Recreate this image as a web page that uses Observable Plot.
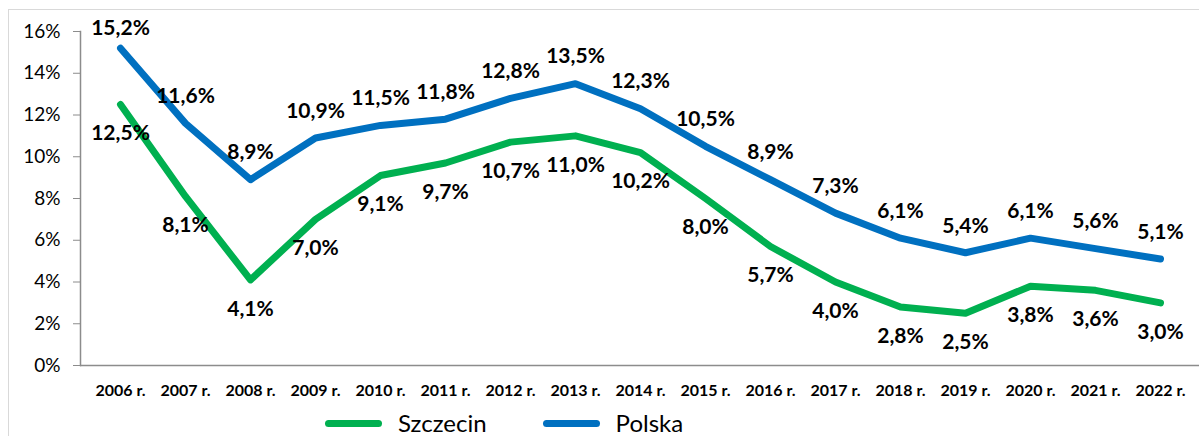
<!DOCTYPE html>
<html><head><meta charset="utf-8">
<script src="https://cdn.jsdelivr.net/npm/d3@7"></script>
<script src="https://cdn.jsdelivr.net/npm/@observablehq/plot@0.6"></script>
<style>
body{margin:0;background:#fff;font-family:Lato,"Open Sans",sans-serif}
#wrap{position:relative;width:1199px;height:436px;overflow:hidden}
#frame{position:absolute;left:8px;top:9px;width:1400px;height:600px;border:1px solid #d9d9d9}
#chart{position:absolute;left:0;top:0}
#legend{position:absolute;left:325px;top:410px;height:26px;display:flex;align-items:center;font-size:24px;line-height:1;color:#000}
.sw{width:57px;height:7px;border-radius:4px;margin-right:16px}
.lab{margin-right:56px;line-height:1}
</style></head>
<body><div id="wrap"><div id="frame"></div><div id="chart"></div><div id="legend"></div></div>
<script>
const years = ["2006 r.","2007 r.","2008 r.","2009 r.","2010 r.","2011 r.","2012 r.","2013 r.","2014 r.","2015 r.","2016 r.","2017 r.","2018 r.","2019 r.","2020 r.","2021 r.","2022 r."];
const szczecin = [12.5, 8.1, 4.1, 7.0, 9.1, 9.7, 10.7, 11.0, 10.2, 8.0, 5.7, 4.0, 2.8, 2.5, 3.8, 3.6, 3.0];
const polska = [15.2, 11.6, 8.9, 10.9, 11.5, 11.8, 12.8, 13.5, 12.3, 10.5, 8.9, 7.3, 6.1, 5.4, 6.1, 5.6, 5.1];
const yTicks = [0, 2, 4, 6, 8, 10, 12, 14, 16];
const seriesNames = ["Szczecin", "Polska"];
const seriesColors = ["#00B050", "#0070C0"];

const sRows = years.map((year, i) => ({year, value: szczecin[i], series: "Szczecin", i}));
const pRows = years.map((year, i) => ({year, value: polska[i], series: "Polska", i}));
const rows = sRows.concat(pRows);
const fmt = v => v.toFixed(1).replace(".", ",") + "%";
const font = "Lato, 'Open Sans', sans-serif";

const chart = Plot.plot({
  width: 1199, height: 405,
  marginLeft: 80, marginRight: 0, marginTop: 31, marginBottom: 40,
  style: {fontFamily: font, background: "transparent", color: "#000"},
  x: {type: "point", domain: years, padding: 0.5, label: null},
  y: {domain: [0, 16], label: null},
  color: {domain: seriesNames, range: seriesColors},
  marks: [
    Plot.axisY({ticks: yTicks, tickSize: 7, tickPadding: 13, tickFormat: d => d + "%", fontSize: 19, stroke: "#8c8c8c", fill: "#000"}),
    Plot.axisX({tickSize: 0, tickPadding: 19, fontSize: 16, fontWeight: "bold", fill: "#000"}),
    Plot.frame({anchor: "left", stroke: "#8c8c8c", strokeWidth: 1.5}),
    Plot.ruleY([0], {stroke: "#8c8c8c", strokeWidth: 1.5}),
    Plot.line(rows, {x: "year", y: "value", z: "series", stroke: "series", strokeWidth: 7, strokeLinecap: "round", strokeLinejoin: "round"}),
    Plot.text(pRows.filter(d => d.i > 0), {x: "year", y: "value", text: d => fmt(d.value), dy: -27, fontSize: 21, fontWeight: "bold", fill: "#000"}),
    Plot.text(pRows.filter(d => d.i === 0), {x: "year", y: "value", text: d => fmt(d.value), dy: -20, fontSize: 21, fontWeight: "bold", fill: "#000"}),
    Plot.text(sRows, {x: "year", y: "value", text: d => fmt(d.value), dy: 29, fontSize: 21, fontWeight: "bold", fill: "#000"})
  ]
});
document.getElementById("chart").appendChild(chart);

const legend = document.getElementById("legend");
seriesNames.forEach((name, k) => {
  const sw = document.createElement("div");
  sw.className = "sw"; sw.style.background = seriesColors[k];
  const t = document.createElement("span");
  t.className = "lab"; t.textContent = name;
  legend.appendChild(sw); legend.appendChild(t);
});
</script>
</body></html>
